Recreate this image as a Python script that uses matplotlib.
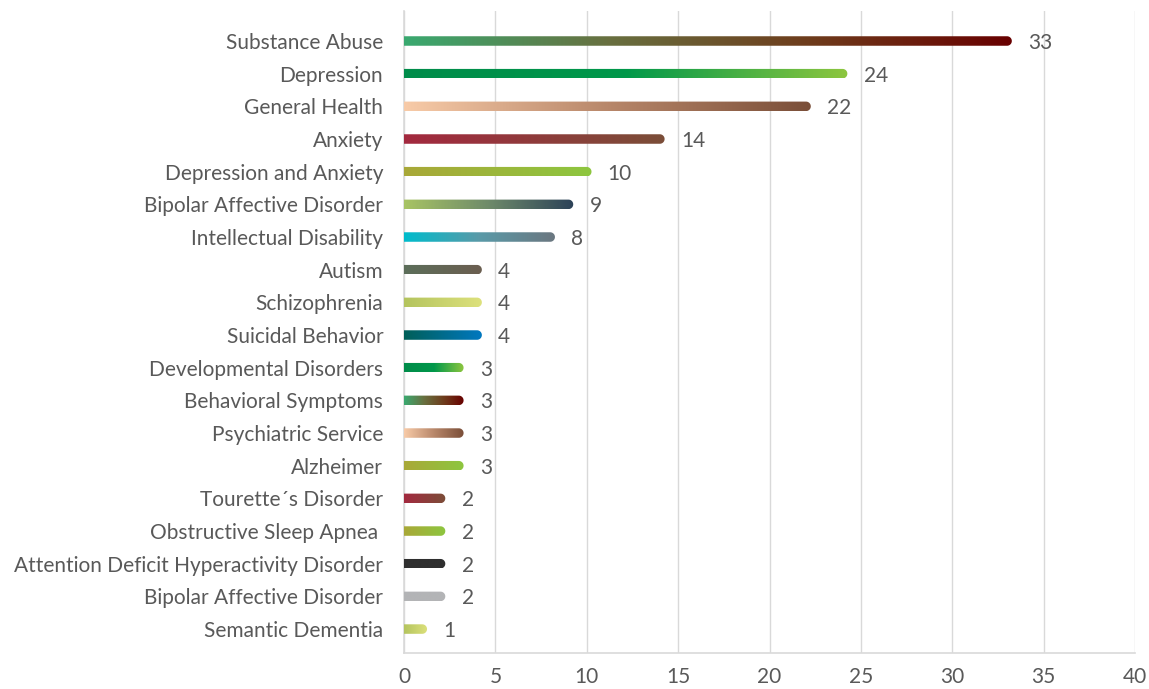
import matplotlib
matplotlib.use("Agg")
import matplotlib.pyplot as plt
import numpy as np
from matplotlib.colors import LinearSegmentedColormap
from matplotlib.path import Path

# Categories (top to bottom) and study counts
categories = [
    "Substance Abuse", "Depression", "General Health", "Anxiety",
    "Depression and Anxiety", "Bipolar Affective Disorder",
    "Intellectual Disability", "Autism", "Schizophrenia", "Suicidal Behavior",
    "Developmental Disorders", "Behavioral Symptoms", "Psychiatric Service",
    "Alzheimer", "Tourette\u00b4s Disorder", "Obstructive Sleep Apnea ",
    "Attention Deficit Hyperactivity Disorder", "Bipolar Affective Disorder",
    "Semantic Dementia",
]
counts = [33, 24, 22, 14, 10, 9, 8, 4, 4, 4, 3, 3, 3, 3, 2, 2, 2, 2, 1]
x_ticks = [0, 5, 10, 15, 20, 25, 30, 35, 40]

# Gradient stops (left -> right) for each bar
SUBST = ["#3aa970", "#687040", "#6e3c1c", "#680000"]
GREEN = ["#008c4a", "#00984a", "#8dc63f"]
PEACH = ["#f8cba8", "#b8876a", "#7a4e38"]
RED = ["#a3293f", "#7b4e38"]
OLIVE = ["#a9a838", "#8dc63f"]
BIPOL = ["#a8c464", "#6e8a6a", "#2c4258"]
TEAL = ["#00bccc", "#5a9aa8", "#6b7780"]
AUT = ["#5c6e5a", "#6b5e50"]
LIME = ["#b4c45e", "#dde17c"]
BLUE = ["#005f58", "#0078c0"]
DARK = ["#2f2f2f", "#2f2f2f"]
GREY = ["#b3b4b6", "#b3b4b6"]
bar_colors = [SUBST, GREEN, PEACH, RED, OLIVE, BIPOL, TEAL, AUT, LIME, BLUE,
              GREEN, SUBST, PEACH, OLIVE, RED, OLIVE, DARK, GREY, LIME]

W, H, DPI = 1149, 689, 100
fig = plt.figure(figsize=(W / DPI, H / DPI), dpi=DPI)
left_px, right_px, top_px, bot_px = 404, 1135, 11, 653
ax = fig.add_axes([left_px / W, 1 - bot_px / H,
                   (right_px - left_px) / W, (bot_px - top_px) / H])

n = len(categories)
row_px = 32.67
first_px = 41
ylim_top = -(first_px - top_px) / row_px
ylim_bot = (n - 1) + (bot_px - (first_px + row_px * (n - 1))) / row_px
ax.set_xlim(0, 40)
ax.set_ylim(ylim_bot, ylim_top)

px_per_x = (right_px - left_px) / 40.0
bar_px = 9.5
bh = bar_px / row_px
rx = (bar_px / 2) / px_per_x

font = "Lato"
txt_col = "#595959"
fs = 15

for i, (v, stops) in enumerate(zip(counts, bar_colors)):
    cmap = LinearSegmentedColormap.from_list(f"g{i}", stops)
    grad = np.linspace(0, 1, 256).reshape(1, -1)
    x1 = v + rx
    im = ax.imshow(grad, cmap=cmap, aspect="auto", interpolation="bilinear",
                   extent=(0, x1, i + bh / 2, i - bh / 2), zorder=3)
    # rectangle with a rounded right end
    theta = np.linspace(np.pi / 2, -np.pi / 2, 30)
    verts = [(0, i - bh / 2), (v, i - bh / 2)]
    verts += [(v + rx * np.cos(t), i - (bh / 2) * np.sin(t)) for t in theta]
    verts += [(0, i + bh / 2), (0, i - bh / 2)]
    codes = [Path.MOVETO] + [Path.LINETO] * (len(verts) - 2) + [Path.CLOSEPOLY]
    im.set_clip_path(Path(verts, codes), transform=ax.transData)
    ax.text(v + 21 / px_per_x, i + 2 / row_px, str(v), va="center", ha="left",
            fontsize=fs, color=txt_col, family=font)

ax.set_yticks(range(n))
ax.set_yticklabels(categories, fontsize=fs, color=txt_col, family=font)
ax.set_xticks(x_ticks)
ax.set_xticklabels([str(t) for t in x_ticks], fontsize=fs, color=txt_col, family=font)
ax.tick_params(axis="y", length=0, pad=15)
ax.tick_params(axis="x", length=0, pad=10)

ax.grid(axis="x", color="#d9d9d9", linewidth=1.0, zorder=0)
ax.set_axisbelow(True)
for s in ["top", "right"]:
    ax.spines[s].set_visible(False)
ax.spines["left"].set_color("#d9d9d9")
ax.spines["bottom"].set_color("#d9d9d9")
ax.spines["left"].set_linewidth(1.2)
ax.spines["bottom"].set_linewidth(1.2)

fig.savefig("out.png", dpi=DPI)
